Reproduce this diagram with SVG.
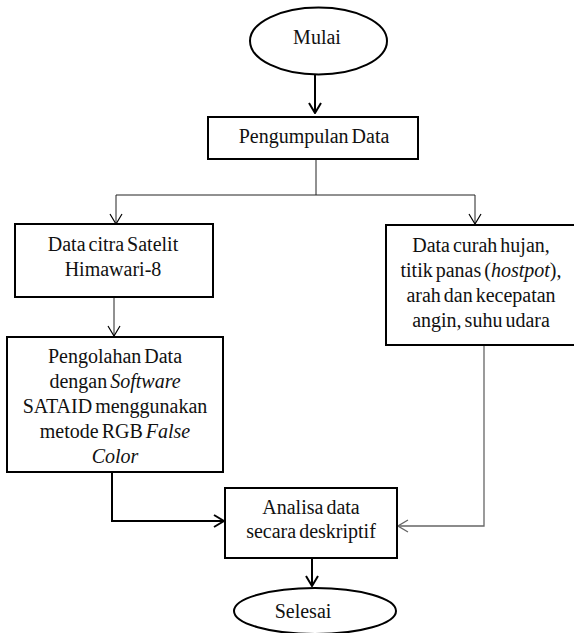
<svg xmlns="http://www.w3.org/2000/svg" width="574" height="633" viewBox="0 0 574 633">
<style>
.box{fill:#fff;stroke:#000;stroke-width:2}
.t{font-family:"Liberation Serif","Times New Roman",serif;font-size:20px;fill:#111;text-anchor:middle;word-spacing:-2px}
.i{font-style:italic}
.thin{fill:none;stroke:#222;stroke-width:1}
.thick{fill:none;stroke:#000;stroke-width:2}
.gray{fill:none;stroke:#666;stroke-width:1.3}
</style>
<defs>
<marker id="ah" viewBox="0 0 12 14" refX="11" refY="7" markerWidth="12" markerHeight="14" markerUnits="userSpaceOnUse" orient="auto">
<path d="M1,1 L11,7 L1,13" fill="none" stroke="#000" stroke-width="1.2"/>
</marker>
<marker id="ahb" viewBox="0 0 12 14" refX="11" refY="7" markerWidth="12" markerHeight="14" markerUnits="userSpaceOnUse" orient="auto">
<path d="M1,1 L11,7 L1,13" fill="none" stroke="#000" stroke-width="2"/>
</marker>
<marker id="ahg" viewBox="0 0 12 14" refX="11" refY="7" markerWidth="12" markerHeight="14" markerUnits="userSpaceOnUse" orient="auto">
<path d="M1,1 L11,7 L1,13" fill="none" stroke="#666" stroke-width="1.3"/>
</marker>
</defs>
<g id="connectors">
<path class="thick" d="M315,75 V113" marker-end="url(#ahb)"/>
<path class="thin" d="M316,159 V195 M116,195 H475"/>
<path class="thin" d="M116,195 V224" marker-end="url(#ah)"/>
<path class="thin" d="M475,195 V224" marker-end="url(#ah)"/>
<path class="thin" d="M114,297 V336" marker-end="url(#ah)"/>
<path class="thick" d="M112,472 V521 H224" marker-end="url(#ahb)"/>
<path class="gray" d="M484,345 V526 H398" marker-end="url(#ahg)"/>
<path class="thick" d="M312,558 V586" marker-end="url(#ahb)"/>
</g>
<g id="mulai">
<ellipse cx="318.5" cy="41" rx="68.5" ry="33.5" fill="#fff" stroke="#000" stroke-width="2"/>
<text class="t" x="317" y="44">Mulai</text>
</g>
<g id="pengumpulan">
<rect class="box" x="208" y="117" width="210" height="42"/>
<text class="t" x="314" y="143">Pengumpulan Data</text>
</g>
<g id="citra">
<rect class="box" x="15" y="224" width="198" height="73"/>
<text class="t" x="113" y="251">Data citra Satelit</text>
<text class="t" x="113" y="276">Himawari-8</text>
</g>
<g id="curah">
<rect class="box" x="386" y="225" width="200" height="120"/>
<text class="t" x="481" y="252">Data curah hujan,</text>
<text class="t" x="481" y="277">titik panas (<tspan class="i">hostpot</tspan>),</text>
<text class="t" x="481" y="302">arah dan kecepatan</text>
<text class="t" x="481" y="327">angin, suhu udara</text>
</g>
<g id="pengolahan">
<rect class="box" x="7" y="337" width="216" height="135"/>
<text class="t" x="115" y="363">Pengolahan Data</text>
<text class="t" x="115" y="388">dengan <tspan class="i">Software</tspan></text>
<text class="t" x="115" y="413">SATAID menggunakan</text>
<text class="t" x="115" y="438">metode RGB <tspan class="i">False</tspan></text>
<text class="t i" x="115" y="463">Color</text>
</g>
<g id="analisa">
<rect class="box" x="225" y="488" width="172" height="70"/>
<text class="t" x="311" y="514">Analisa data</text>
<text class="t" x="311" y="538">secara deskriptif</text>
</g>
<g id="selesai">
<ellipse cx="315" cy="611" rx="81" ry="23" fill="#fff" stroke="#000" stroke-width="2"/>
<text class="t" x="303" y="618">Selesai</text>
</g>
</svg>
